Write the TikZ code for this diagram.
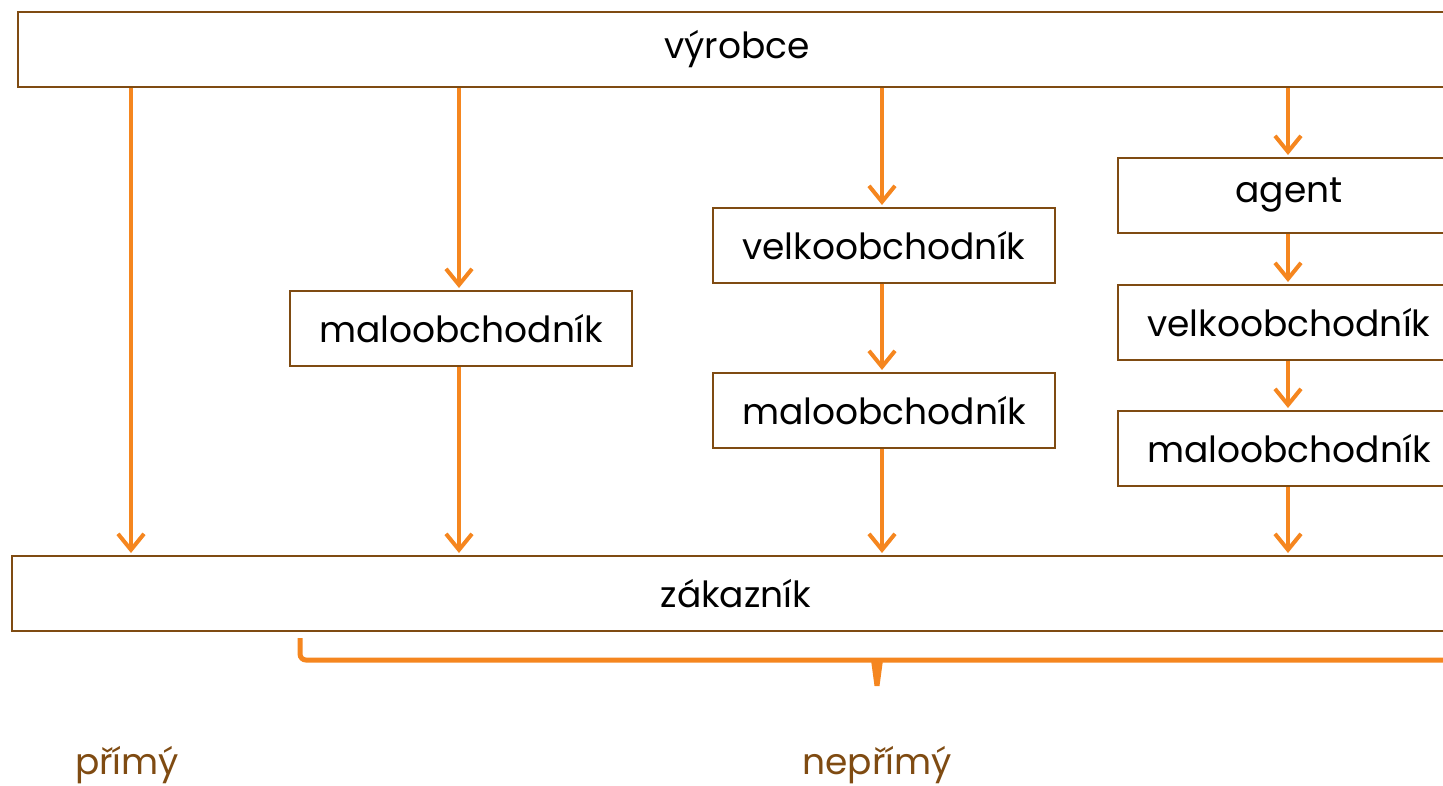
\documentclass[tikz,border=0pt]{standalone}
\usepackage{fontspec}
\setmainfont{Poppins}
\usetikzlibrary{arrows.meta}
\definecolor{boxbrown}{HTML}{7F4B12}
\definecolor{arrorange}{HTML}{F5861F}
\definecolor{labbrown}{HTML}{7F4B12}
\tikzset{
  box/.style={draw=boxbrown, line width=1.8pt, minimum height=75pt, inner sep=0pt, font=\fontsize{36}{42}\selectfont, text=black},
  colbox/.style={box, minimum width=342pt},
  flow/.style={draw=arrorange, line width=4pt, -{Straight Barb[length=16pt,width=26pt,line width=4pt]}, shorten >=2pt},
  bracket/.style={draw=arrorange, line width=5pt},
  lab/.style={text=labbrown, font=\fontsize{36}{42}\selectfont}
}
\begin{document}
\begin{tikzpicture}[x=1pt,y=-1pt]
\useasboundingbox (0,0) rectangle (1443,785);
\node[box, minimum width=1438pt, anchor=north west] (vyrobce) at (17,11) {výrobce};
\node[box, minimum width=1448pt, anchor=north west] (zak) at (11,555) {zákazník};
\node[colbox, anchor=north west] (m2) at (289,290) {maloobchodník};
\node[colbox, anchor=north west] (v3) at (712,207) {velkoobchodník};
\node[colbox, anchor=north west] (m3) at (712,372) {maloobchodník};
\node[colbox, anchor=north west] (a4) at (1117,157) {agent};
\node[colbox, anchor=north west] (v4) at (1117,284) {velkoobchodník};
\node[colbox, anchor=north west] (m4) at (1117,410) {maloobchodník};
\coordinate (c1) at (131,0);
\coordinate (c2) at (459,0);
\coordinate (c3) at (882,0);
\coordinate (c4) at (1288,0);
\draw[flow] (vyrobce.south -| c1) -- (zak.north -| c1);
\draw[flow] (vyrobce.south -| c2) -- (m2.north -| c2);
\draw[flow] (m2.south -| c2) -- (zak.north -| c2);
\draw[flow] (vyrobce.south -| c3) -- (v3.north -| c3);
\draw[flow] (v3.south -| c3) -- (m3.north -| c3);
\draw[flow] (m3.south -| c3) -- (zak.north -| c3);
\draw[flow] (vyrobce.south -| c4) -- (a4.north -| c4);
\draw[flow] (a4.south -| c4) -- (v4.north -| c4);
\draw[flow] (v4.south -| c4) -- (m4.north -| c4);
\draw[flow] (m4.south -| c4) -- (zak.north -| c4);
\coordinate (bl) at (300,638);
\coordinate (bm) at (877,660);
\draw[bracket, rounded corners=6pt] (bl) -- (300,660) -- (1470,660);
\fill[arrorange] (871,660) -- (883,660) -- (879.5,686) -- (874.5,686) -- cycle;
\node[lab] (primy) at (127,765) {přímý};
\node[lab] (neprimy) at (877,765) {nepřímý};
\end{tikzpicture}
\end{document}
